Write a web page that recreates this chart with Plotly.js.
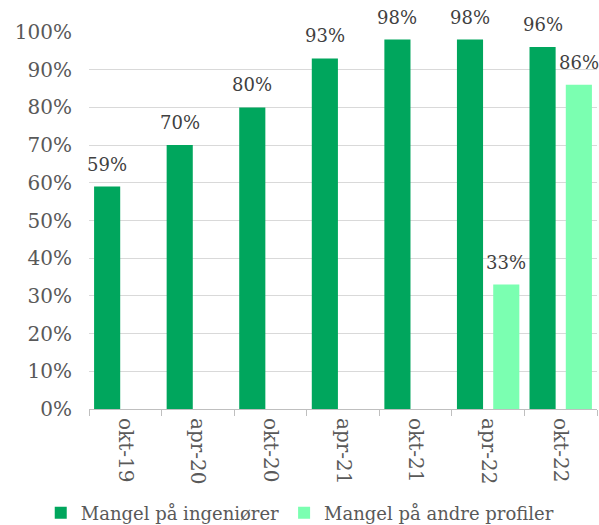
<!DOCTYPE html>
<html>
<head>
<meta charset="utf-8">
<script src="https://cdn.plot.ly/plotly-3.0.1.min.js"></script>
<style>html,body{margin:0;padding:0;background:#fff;}#chart{width:599px;height:525px;}</style>
</head>
<body>
<div id="chart"></div>
<script>
const categories = ["okt-19", "apr-20", "okt-20", "apr-21", "okt-21", "apr-22", "okt-22"];
const seriesNames = ["Mangel på ingeniører", "Mangel på andre profiler"];
const ingeniorer = [0.59, 0.70, 0.80, 0.93, 0.98, 0.98, 0.96];
const andreProfiler = [null, null, null, null, null, 0.33, 0.86];
const yTickVals = [0, 0.1, 0.2, 0.3, 0.4, 0.5, 0.6, 0.7, 0.8, 0.9, 1.0];
const yTickText = ["0%", "10%", "20%", "30%", "40%", "50%", "60%", "70%", "80%", "90%", "100%"];

const font = "DejaVu Serif";
const fmt = v => Math.round(v * 100) + "%";

const traces = [
  {type: "bar", name: seriesNames[0], x: categories, y: ingeniorer, marker: {color: "#00A65D"}},
  {type: "bar", name: seriesNames[1], x: categories, y: andreProfiler, marker: {color: "#7BFFB1"}}
];

// Data labels: placed at each bar's value, centred on the bar within its group
const seriesList = [ingeniorer, andreProfiler];
const nSeries = seriesList.length;
const annotations = [];
seriesList.forEach((vals, s) => {
  const off = (s - (nSeries - 1) / 2) / nSeries;
  vals.forEach((v, i) => {
    if (v == null) return;
    annotations.push({
      x: i + off, y: v, xref: "x", yref: "y",
      text: fmt(v), showarrow: false, yanchor: "bottom", yshift: 10,
      font: {family: font, size: 18, color: "#404040"}
    });
  });
});

const layout = {
  width: 599, height: 525,
  margin: {l: 89, r: 2, t: 32, b: 116, autoexpand: false},
  paper_bgcolor: "#fff", plot_bgcolor: "#fff",
  barmode: "group", bargap: 0, bargroupgap: 0.28,
  font: {family: font, size: 18, color: "#595959"},
  xaxis: {
    type: "category", tickangle: 90,
    range: [-0.5, categories.length - 0.5],
    showline: true, linecolor: "#BFBFBF", linewidth: 1,
    ticks: "outside", tickson: "boundaries", ticklen: 6, tickcolor: "#BFBFBF",
    ticklabelstandoff: 4,
    showgrid: false, tickfont: {family: font, size: 20, color: "#595959"},
    fixedrange: true
  },
  yaxis: {
    range: [0, 1], tickvals: yTickVals, ticktext: yTickText,
    showgrid: true, gridcolor: "#D9D9D9", gridwidth: 1,
    zeroline: false, showline: false, ticks: "",
    ticklabelstandoff: 16,
    tickfont: {family: font, size: 20, color: "#595959"},
    fixedrange: true
  },
  annotations: annotations,
  showlegend: true,
  legend: {
    orientation: "h", x: -0.095, xanchor: "left", y: -0.276, yanchor: "middle",
    font: {family: font, size: 18, color: "#595959"},
    itemwidth: 30, traceorder: "normal"
  }
};

Plotly.newPlot("chart", traces, layout, {displayModeBar: false, staticPlot: true});
</script>
</body>
</html>
